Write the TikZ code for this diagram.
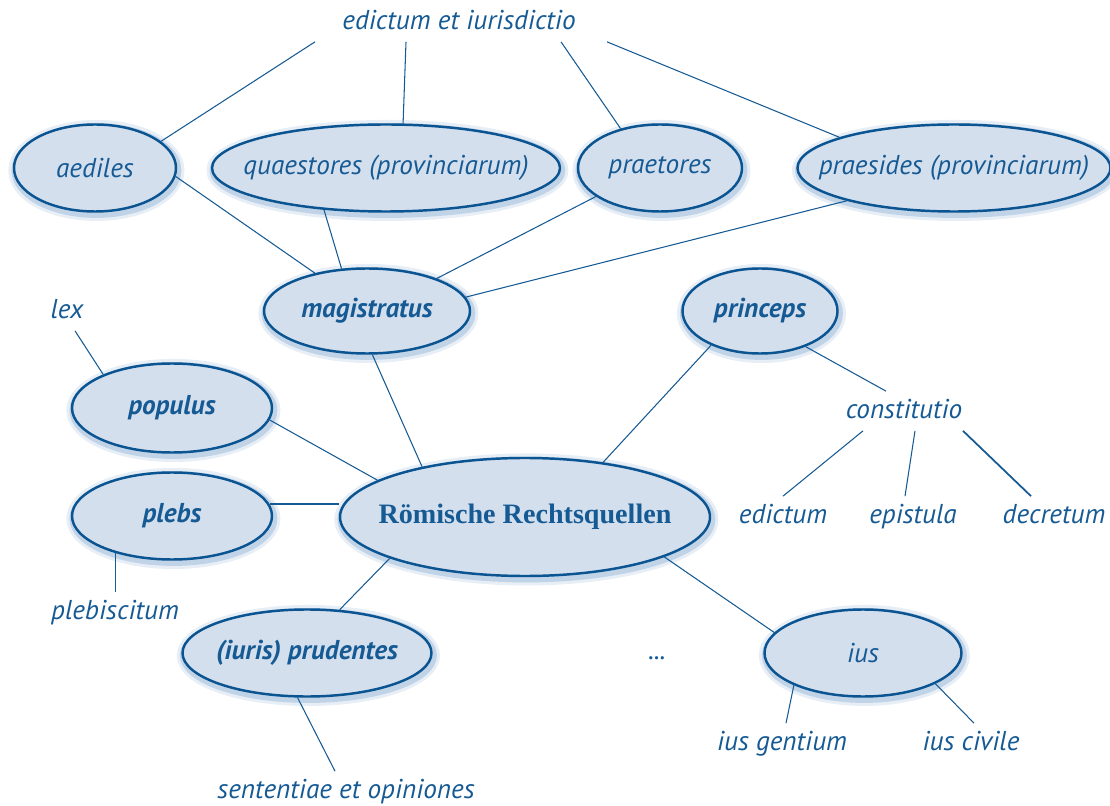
\documentclass[tikz,border=0pt]{standalone}
\usepackage{fontspec}
\setmainfont{PT Sans}
\newfontfamily\rqserif{Liberation Serif}
\usetikzlibrary{shapes.geometric}
\definecolor{rqblue}{RGB}{22,90,148}
\definecolor{rqborder}{RGB}{10,84,145}
\definecolor{rqfill}{RGB}{212,223,238}
\definecolor{rqshadow}{RGB}{55,115,180}
\tikzset{
  glow/.style={preaction={draw=rqshadow,line width=8pt,opacity=0.12,transform canvas={shift={(0.8pt,-1.4pt)}}},
               preaction={draw=rqshadow,line width=4.5pt,opacity=0.22,transform canvas={shift={(0.8pt,-1.4pt)}}}},
  ell/.style={ellipse,draw=rqborder,line width=1.4pt,fill=rqfill,inner ysep=0pt,inner xsep=-1.2cm,glow,
              minimum height=1.74cm,text=rqblue,font=\itshape\fontsize{15.5}{18}\selectfont},
  bell/.style={ell,font=\bfseries\itshape\fontsize{15.5}{18}\selectfont},
  txt/.style={inner sep=4pt,text height=11pt,text depth=3pt,text=rqblue,font=\itshape\fontsize{15.5}{18}\selectfont},
}
\begin{document}
\begin{tikzpicture}[line join=round,rqblue,line width=0.6pt]
\useasboundingbox (0,0) rectangle (22.2,16.1);
\node[ell,minimum width=3.24cm] (aediles) at (1.90,12.74) {aediles};
\node[ell,minimum width=6.96cm] (quaestores) at (7.72,12.74) {quaestores (provinciarum)};
\node[ell,minimum width=3.28cm] (praetores) at (13.20,12.74) {praetores};
\node[ell,minimum width=6.26cm] (praesides) at (19.08,12.74) {praesides (provinciarum)};
\node[bell,minimum width=4.12cm,minimum height=1.70cm] (magistratus) at (7.34,9.88) {magistratus};
\node[bell,minimum width=3.10cm,minimum height=1.70cm] (princeps) at (15.20,9.88) {princeps};
\node[bell,minimum width=4.00cm,minimum height=1.78cm] (populus) at (3.44,7.94) {populus};
\node[bell,minimum width=4.00cm] (plebs) at (3.44,5.78) {plebs};
\node[ell,minimum width=7.40cm,minimum height=2.36cm,font=\rqserif\bfseries\fontsize{16}{19}\selectfont] (roem) at (10.50,5.76) {Römische Rechtsquellen};
\node[bell,minimum width=4.98cm] (prudentes) at (6.14,3.04) {(iuris) prudentes};
\node[ell,minimum width=3.94cm] (ius) at (17.26,3.04) {ius};

\node[txt] (edict) at (9.18,15.66) {edictum et iurisdictio};
\node[txt] (lex) at (1.34,9.88) {lex};
\node[txt] (constitutio) at (18.08,7.88) {constitutio};
\node[txt] (edictum) at (15.66,5.78) {edictum};
\node[txt] (epistula) at (18.26,5.78) {epistula};
\node[txt] (decretum) at (21.08,5.78) {decretum};
\node[txt] (plebiscitum) at (2.30,3.86) {plebiscitum};
\node[txt] (dots) at (13.14,3.06) {...};
\node[txt] (gentium) at (15.64,1.24) {ius gentium};
\node[txt] (civile) at (19.42,1.24) {ius civile};
\node[txt] (sententiae) at (6.92,0.28) {sententiae et opiniones};

\foreach \dx/\to in {-2.88/aediles.22,-1.06/quaestores.69,2.04/praetores.135,2.96/praesides.165}
  \draw ([xshift=\dx cm]edict.south) -- (\to);
\draw (aediles.-6) -- (magistratus.144);
\draw (quaestores.214) -- (magistratus.121);
\draw (praetores.204) -- (magistratus.25);
\draw (praesides.197) -- (magistratus.8);
\draw (magistratus.277) -- (roem.154);
\draw ([xshift=0.16cm]lex.south) -- (populus.154);
\draw (populus.-7) -- (roem.166);
\draw (plebs.7) -- (plebs.7 -| roem.west);
\draw (plebs.213) -- (plebs.213 |- plebiscitum.north);
\draw (roem.197) -- (prudentes.53);
\draw (prudentes.258) -- ([xshift=-0.22cm]sententiae.north);
\draw (roem.35) -- (princeps.215);
\draw (princeps.322) -- ([xshift=-0.36cm]constitutio.north);
\draw ([xshift=-0.82cm]constitutio.south) -- (edictum.north);
\draw ([xshift=0.22cm]constitutio.south) -- ([xshift=-0.16cm]epistula.north);
\draw[line width=1pt] ([xshift=1.18cm]constitutio.south) -- ([xshift=-0.46cm]decretum.north);
\draw (roem.-16) -- (ius.167);
\draw (ius.205) -- ([xshift=0.08cm]gentium.north);
\draw (ius.337) -- ([xshift=0.06cm]civile.north);
\end{tikzpicture}
\end{document}
